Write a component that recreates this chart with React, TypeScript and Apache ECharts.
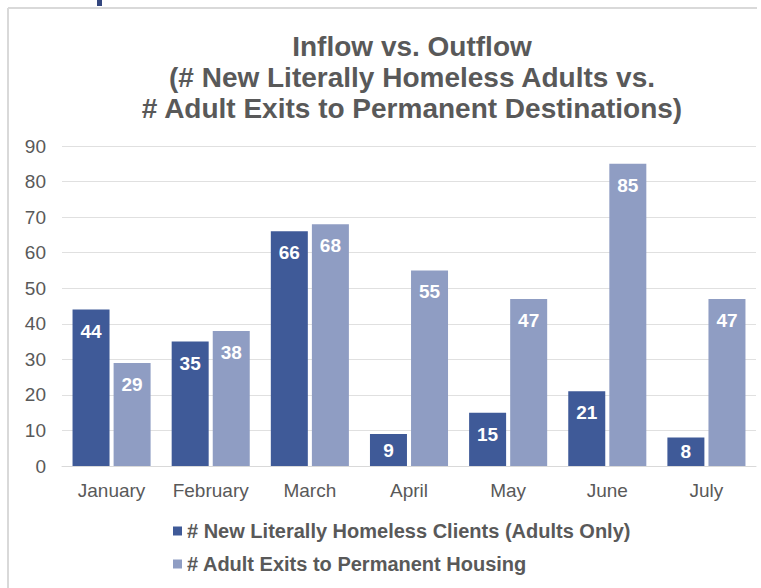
import React, { useEffect, useRef } from "react";
import * as echarts from "echarts";

const categories = ["January", "February", "March", "April", "May", "June", "July"];
const inflowValues = [44, 35, 66, 9, 15, 21, 8];
const outflowValues = [29, 38, 68, 55, 47, 85, 47];
const seriesNames = [
  "# New Literally Homeless Clients (Adults Only)",
  "# Adult Exits to Permanent Housing",
];
const titleLines = [
  "Inflow vs. Outflow",
  "(# New Literally Homeless Adults vs.",
  "# Adult Exits to Permanent Destinations)",
];

const FONT = "Arial, 'Liberation Sans', sans-serif";
const TEXT = "#595959";
const DARK = "#3F5A98";
const LIGHT = "#8F9DC3";

function toData(values: number[]) {
  return values.map((v) =>
    v < 12
      ? { value: v, label: { position: "inside" as const } }
      : { value: v }
  );
}

export default function App() {
  const ref = useRef<HTMLDivElement>(null);
  useEffect(() => {
    if (!ref.current) return;
    const chart = echarts.init(ref.current, undefined, { renderer: "svg" });
    const barLabel = {
      show: true,
      position: "insideTop" as const,
      distance: 12,
      color: "#ffffff",
      fontFamily: FONT,
      fontWeight: "bold" as const,
      fontSize: 19,
    };
    chart.setOption({
      animation: false,
      backgroundColor: "#ffffff",
      title: {
        text: titleLines.join("\n"),
        left: 407,
        textAlign: "center",
        top: 26,
        textStyle: {
          fontFamily: FONT,
          fontWeight: "bold",
          fontSize: 28,
          lineHeight: 31,
          color: TEXT,
        },
      },
      legend: {
        orient: "vertical",
        left: 168,
        top: 516,
        itemWidth: 9,
        itemHeight: 9,
        itemGap: 13,
        icon: "rect",
        textStyle: {
          fontFamily: FONT,
          fontWeight: "bold",
          fontSize: 20,
          color: TEXT,
        },
        data: seriesNames,
      },
      grid: { left: 62, right: 5, top: 146, bottom: 122 },
      xAxis: {
        type: "category",
        data: categories,
        axisLine: { lineStyle: { color: "#d9d9d9", width: 1 } },
        axisTick: { show: false },
        axisLabel: {
          interval: 0,
          fontFamily: FONT,
          fontSize: 19,
          color: TEXT,
          margin: 15,
        },
      },
      yAxis: {
        type: "value",
        min: 0,
        max: 90,
        interval: 10,
        axisLine: { show: false },
        axisTick: { show: false },
        splitLine: { lineStyle: { color: "#e0e0e0", width: 1 } },
        axisLabel: {
          fontFamily: FONT,
          fontSize: 19,
          color: TEXT,
          margin: 16,
        },
      },
      series: [
        {
          name: seriesNames[0],
          type: "bar",
          data: toData(inflowValues),
          barWidth: 37,
          barGap: "11%",
          itemStyle: { color: DARK },
          label: barLabel,
        },
        {
          name: seriesNames[1],
          type: "bar",
          data: toData(outflowValues),
          barWidth: 37,
          barGap: "11%",
          itemStyle: { color: LIGHT },
          label: barLabel,
        },
      ],
      graphic: [
        {
          type: "line",
          shape: { x1: 8, y1: 8, x2: 757, y2: 8 },
          style: { stroke: "#d9d9d9", lineWidth: 2 },
        },
        {
          type: "line",
          shape: { x1: 8, y1: 8, x2: 8, y2: 588 },
          style: { stroke: "#d9d9d9", lineWidth: 2 },
        },
        {
          type: "rect",
          shape: { x: 97, y: 0, width: 5, height: 6 },
          style: { fill: "#34477f" },
        },
      ],
    });
    return () => chart.dispose();
  }, []);
  return (
    <div
      ref={ref}
      style={{ position: "absolute", left: 0, top: 0, width: 761, height: 588 }}
    />
  );
}
